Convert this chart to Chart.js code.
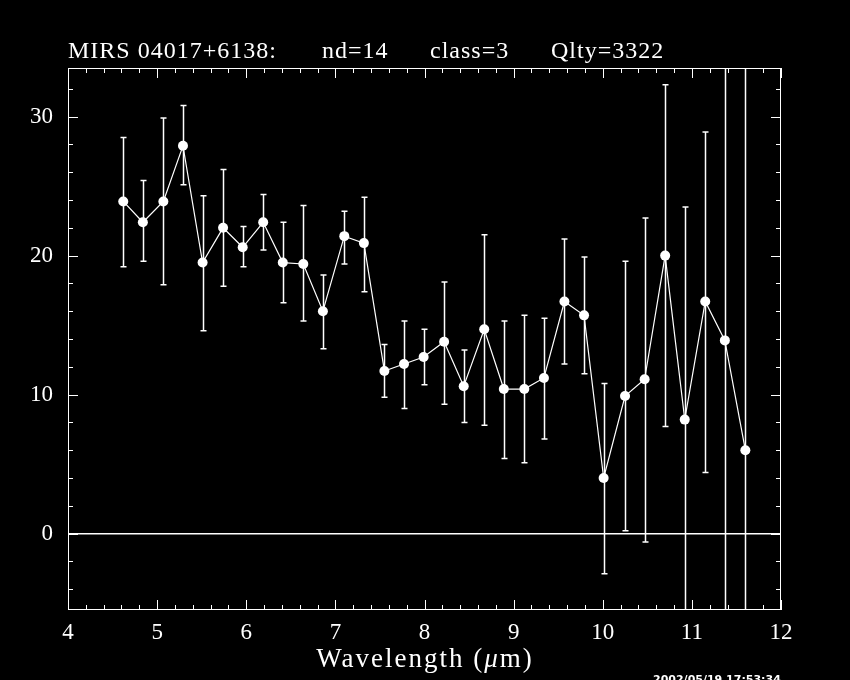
<!DOCTYPE html>
<html>
<head>
<meta charset="utf-8">
<script src="https://cdn.jsdelivr.net/npm/chart.js@4"></script>
<style>
  html, body { margin: 0; background: #000; }
  canvas { display: block; }
</style>
</head>
<body>
<canvas id="chart" width="850" height="680"></canvas>
<script>
// wavelength (um) and flux values
const wavelength = [4.62, 4.84, 5.07, 5.29, 5.51, 5.74, 5.96, 6.19, 6.41, 6.64, 6.86, 7.10, 7.32, 7.55, 7.77, 7.99,
                    8.22, 8.44, 8.67, 8.89, 9.12, 9.34, 9.57, 9.79, 10.01, 10.25, 10.47, 10.70, 10.92, 11.15, 11.37, 11.60];
const flux = [23.9, 22.4, 23.9, 27.9, 19.5, 22.0, 20.6, 22.4, 19.5, 19.4, 16.0, 21.4, 20.9, 11.7, 12.2, 12.7,
              13.8, 10.6, 14.7, 10.4, 10.4, 11.2, 16.7, 15.7, 4.0, 9.9, 11.1, 20.0, 8.2, 16.7, 13.9, 6.0];
const errHigh = [28.5, 25.4, 29.9, 30.8, 24.3, 26.2, 22.1, 24.4, 22.4, 23.6, 18.6, 23.2, 24.2, 13.6, 15.3, 14.7,
                 18.1, 13.2, 21.5, 15.3, 15.7, 15.5, 21.2, 19.9, 10.8, 19.6, 22.7, 32.3, 23.5, 28.9, 60, 60];
const errLow = [19.2, 19.6, 17.9, 25.1, 14.6, 17.8, 19.2, 20.4, 16.6, 15.3, 13.3, 19.4, 17.4, 9.8, 9.0, 10.7,
                9.3, 8.0, 7.8, 5.4, 5.1, 6.8, 12.2, 11.5, -2.9, 0.2, -0.6, 7.7, -30, 4.4, -30, -30];
const xTicks = [4, 5, 6, 7, 8, 9, 10, 11, 12];
const yTicks = [0, 10, 20, 30];

const serif = '"Liberation Serif", "DejaVu Serif", serif';

// error bars, drawn under the points
const errorBars = {
  id: 'errorBars',
  beforeDatasetsDraw(chart) {
    const { ctx, chartArea, scales: { x, y } } = chart;
    ctx.save();
    ctx.beginPath();
    ctx.rect(chartArea.left, chartArea.top, chartArea.right - chartArea.left, chartArea.bottom - chartArea.top);
    ctx.clip();
    ctx.strokeStyle = '#fff';
    ctx.lineWidth = 1.5;
    wavelength.forEach((w, i) => {
      const px = Math.round(x.getPixelForValue(w)) + 0.5;
      const top = y.getPixelForValue(errHigh[i]);
      const bot = y.getPixelForValue(errLow[i]);
      ctx.beginPath();
      ctx.moveTo(px, top);
      ctx.lineTo(px, bot);
      ctx.moveTo(px - 3, top);
      ctx.lineTo(px + 3, top);
      ctx.moveTo(px - 3, bot);
      ctx.lineTo(px + 3, bot);
      ctx.stroke();
    });
    ctx.restore();
  }
};

// frame, inward ticks and the texts around the plot
const frame = {
  id: 'frame',
  afterDraw(chart) {
    const { ctx, chartArea: a, scales: { x, y } } = chart;
    ctx.save();
    ctx.strokeStyle = '#fff';
    ctx.lineWidth = 1;
    ctx.strokeRect(a.left + 0.5, a.top + 0.5, a.right - a.left - 1, a.bottom - a.top - 1);
    ctx.beginPath();
    for (let k = 0; k <= 40; k++) {
      const v = 4 + k * 0.2;
      const px = Math.round(x.getPixelForValue(v)) + 0.5;
      const len = k % 5 === 0 ? 10 : 5;
      ctx.moveTo(px, a.bottom); ctx.lineTo(px, a.bottom - len);
      ctx.moveTo(px, a.top); ctx.lineTo(px, a.top + len);
    }
    for (let v = -4; v <= 32; v += 2) {
      const py = Math.round(y.getPixelForValue(v)) + 0.5;
      const len = v % 10 === 0 ? 10 : 5;
      ctx.moveTo(a.left, py); ctx.lineTo(a.left + len, py);
      ctx.moveTo(a.right, py); ctx.lineTo(a.right - len, py);
    }
    ctx.stroke();

    ctx.fillStyle = '#fff';
    ctx.textBaseline = 'alphabetic';
    ctx.font = '24px ' + serif;
    ctx.letterSpacing = '1px';
    ctx.fillText('MIRS 04017+6138:', 68, 58);
    ctx.fillText('nd=14', 322, 58);
    ctx.fillText('class=3', 430, 58);
    ctx.fillText('Qlty=3322', 551, 58);

    // axis title with italic mu
    ctx.letterSpacing = '2px';
    ctx.font = '27px ' + serif;
    const p1 = 'Wavelength (', p3 = 'm)';
    const w1 = ctx.measureText(p1).width, w3 = ctx.measureText(p3).width;
    ctx.font = 'italic 27px ' + serif;
    const w2 = ctx.measureText('\u03bc').width;
    let tx = 425 - (w1 + w2 + w3) / 2;
    ctx.font = '27px ' + serif;
    ctx.fillText(p1, tx, 667);
    ctx.font = 'italic 27px ' + serif;
    ctx.fillText('\u03bc', tx + w1, 667);
    ctx.font = '27px ' + serif;
    ctx.fillText(p3, tx + w1 + w2, 667);

    ctx.letterSpacing = '0px';
    ctx.font = 'bold 11px "DejaVu Sans", sans-serif';
    ctx.fillText('2002/05/19 17:53:34', 653, 683);
    ctx.restore();
  }
};

new Chart(document.getElementById('chart'), {
  type: 'line',
  data: {
    datasets: [{
      data: wavelength.map((w, i) => ({ x: w, y: flux[i] })),
      borderColor: '#fff',
      borderWidth: 1.2,
      pointRadius: 5,
      pointBackgroundColor: '#fff',
      pointBorderWidth: 0,
      tension: 0
    }]
  },
  options: {
    responsive: false,
    animation: false,
    layout: { padding: { top: 68, right: 69, left: 0, bottom: 0 } },
    plugins: { legend: { display: false }, tooltip: { enabled: false }, title: { display: false } },
    scales: {
      x: {
        type: 'linear',
        min: 4,
        max: 12,
        afterBuildTicks: s => { s.ticks = xTicks.map(v => ({ value: v })); },
        afterFit: s => { s.height = 70; },
        grid: { display: false },
        border: { display: false },
        ticks: { color: '#fff', font: { family: serif, size: 23 }, padding: 1, maxRotation: 0, autoSkip: false }
      },
      y: {
        min: -5.5,
        max: 33.5,
        afterBuildTicks: s => { s.ticks = yTicks.map(v => ({ value: v })); },
        afterFit: s => { s.width = 68; },
        grid: {
          drawTicks: false,
          lineWidth: 1.5,
          color: c => (c.tick && c.tick.value === 0 ? '#fff' : 'rgba(0,0,0,0)')
        },
        border: { display: false },
        ticks: { color: '#fff', font: { family: serif, size: 23 }, padding: 15 }
      }
    }
  },
  plugins: [errorBars, frame]
});
</script>
</body>
</html>
